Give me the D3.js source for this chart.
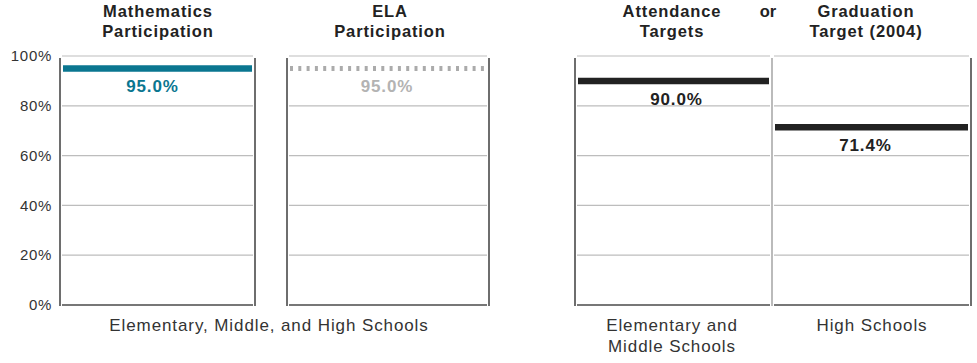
<!DOCTYPE html>
<html><head><meta charset="utf-8">
<script src="https://cdn.jsdelivr.net/npm/d3@7"></script>
<style>html,body{margin:0;padding:0;background:#fff;}svg{display:block;font-family:"Liberation Sans",Arial,sans-serif;}</style>
</head><body>
<svg id="c" width="977" height="363"></svg>
<script>
// ---- data ----
const categories = ["Math", "ELA", "AttendanceEM", "GraduationHS"];
const values = [95.0, 95.0, 90.0, 71.4];
const valueLabels = ["95.0%", "95.0%", "90.0%", "71.4%"];
const yTicks = [0, 20, 40, 60, 80, 100];
const titles = [["Mathematics", "Participation"], ["ELA", "Participation"], ["Attendance", "Targets"], ["Graduation", "Target (2004)"]];
const xLabels = [["Elementary, Middle, and High Schools"], ["Elementary and", "Middle Schools"], ["High Schools"]];

// ---- layout ----
const svg = d3.select("#c");
const y = d3.scaleLinear().domain([0, 100]).range([305, 56]);
const panelX = [[60, 255], [287, 489], [575, 772], [772, 971]];
const colors = ["#0a7690", "#ababab", "#222222", "#222222"];
const labelColors = ["#0a7690", "#b3b3b3", "#222222", "#222222"];
const labelOffsets = [-5, -1, 3, -6];
const x = d3.scaleOrdinal().domain(categories).range(panelX);

// gridlines
categories.forEach((c, i) => {
  const [x0, x1] = x(c);
  svg.append("g").selectAll("line").data(yTicks.filter(t => t > 0)).join("line")
    .attr("x1", x0 + 2).attr("x2", x1 - 2)
    .attr("y1", d => y(d)).attr("y2", d => y(d))
    .attr("stroke", "#bdbdbd").attr("stroke-width", 1.2);
  svg.append("line").attr("x1", x0 + 2).attr("x2", x1 - 2).attr("y1", y(0)).attr("y2", y(0))
    .attr("stroke", "#4a4a4a").attr("stroke-width", 1.6);
});
// borders
const borders = [
  [60, "#4a4a4a"], [255, "#4a4a4a"], [287, "#4a4a4a"], [489, "#4a4a4a"],
  [575, "#4a4a4a"], [772, "#aaaaaa"], [971, "#4a4a4a"]
];
svg.append("g").selectAll("line").data(borders).join("line")
  .attr("x1", d => d[0]).attr("x2", d => d[0])
  .attr("y1", y(100) + 2).attr("y2", y(0) + 1)
  .attr("stroke", d => d[1]).attr("stroke-width", 1.6);

// y axis labels
svg.append("g").selectAll("text").data(yTicks).join("text")
  .attr("x", 52).attr("y", d => y(d)).attr("dy", "0.35em")
  .attr("text-anchor", "end").attr("font-size", 15).attr("letter-spacing", 0.7).attr("fill", "#333")
  .text(d => d + "%");

// bars (target lines)
categories.forEach((c, i) => {
  const [x0, x1] = x(c);
  const ln = svg.append("line")
    .attr("x1", x0 + 3).attr("x2", x1 - 3)
    .attr("y1", y(values[i])).attr("y2", y(values[i]))
    .attr("stroke", colors[i]).attr("stroke-width", 6.5);
  if (i === 1) ln.attr("stroke-dasharray", "3,5.3").attr("stroke-width", 5);
  svg.append("text")
    .attr("x", (x0 + x1) / 2 + labelOffsets[i]).attr("y", y(values[i]) + 18).attr("dy", "0.35em")
    .attr("text-anchor", "middle").attr("font-size", 17).attr("font-weight", "bold").attr("letter-spacing", 0.9)
    .attr("fill", labelColors[i]).text(valueLabels[i]);
});

// titles
const titleCenters = [158, 390, 672, 866];
categories.forEach((c, i) => {
  const t = svg.append("text").attr("text-anchor", "middle").attr("font-size", 16.5)
    .attr("font-weight", "bold").attr("letter-spacing", 0.9).attr("fill", "#222");
  titles[i].forEach((s, j) => t.append("tspan").attr("x", titleCenters[i]).attr("y", 17 + j * 20).text(s));
});
svg.append("text").attr("x", 768).attr("y", 17).attr("text-anchor", "middle")
  .attr("font-size", 16.5).attr("font-weight", "bold").attr("fill", "#222").text("or");

// x labels
const xCenters = [269, 672, 872];
xLabels.forEach((lines, i) => {
  const t = svg.append("text").attr("text-anchor", "middle").attr("font-size", 17)
    .attr("letter-spacing", 0.9).attr("fill", "#333");
  lines.forEach((s, j) => t.append("tspan").attr("x", xCenters[i]).attr("y", 331 + j * 21).text(s));
});
</script>
</body></html>
